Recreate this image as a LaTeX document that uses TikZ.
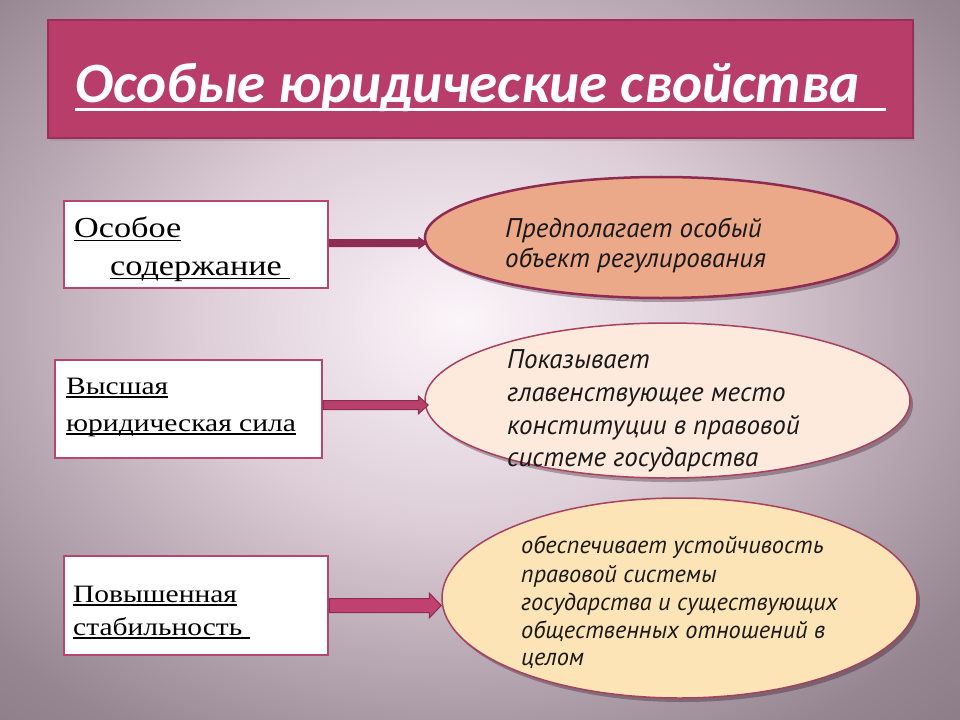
\documentclass[tikz,border=0pt]{standalone}
\usepackage{fontspec}
\setmainfont{Liberation Serif}
\newfontfamily\titlefont{Carlito}
\newfontfamily\boxfont[FakeStretch=1.18]{Liberation Serif}
\newfontfamily\ellfont{PT Sans}
\usetikzlibrary{calc,shapes.geometric,shadows}

\definecolor{bgA}{HTML}{FBF5F9}
\definecolor{bgB}{HTML}{F2E7EE}
\definecolor{bgC}{HTML}{DCCDD6}
\definecolor{bgD}{HTML}{B8A8B3}
\definecolor{bgE}{HTML}{958692}
\definecolor{bgF}{HTML}{7D6D79}
\definecolor{titlefill}{HTML}{B83D68}
\definecolor{titleedge}{HTML}{9C2F57}
\definecolor{boxedge}{HTML}{B44670}
\definecolor{darkrose}{HTML}{8E2B52}
\definecolor{midrose}{HTML}{B8416A}
\definecolor{brightrose}{HTML}{C0406E}
\definecolor{ellA}{HTML}{EBA98A}
\definecolor{ellB}{HTML}{FDEADD}
\definecolor{ellC}{HTML}{FCE4B6}
\definecolor{elledge}{HTML}{A6415F}

\pgfdeclareradialshading{bgsh}{\pgfpoint{0bp}{0bp}}{%
  color(0bp)=(bgA); color(4bp)=(bgB); color(12bp)=(bgC);
  color(20bp)=(bgD); color(28bp)=(bgE); color(40bp)=(bgF); color(50bp)=(bgF)}

\newcommand\ulx[1]{\setbox0\hbox{#1}\rlap{\rule[-0.14em]{\wd0}{0.045em}}\box0}

\newcommand\myarrow[7]{%
  \draw[fill=#1, draw=#2, line width=1bp, line join=miter]
    ($(#3)+(0,-#5)$) -- ($(#4)+(-#7,-#5)$) -- ($(#4)+(-#7,-#6)$) -- (#4)
    -- ($(#4)+(-#7,#6)$) -- ($(#4)+(-#7,#5)$) -- ($(#3)+(0,#5)$) -- cycle;}

\tikzset{
  lbox/.style={draw=boxedge, line width=2.5bp, fill=white, inner sep=0pt},
  ltextbig/.style={anchor=base west, inner sep=0pt, text=black,
    font=\boxfont\fontsize{29bp}{34bp}\selectfont},
  ltext/.style={anchor=base west, inner sep=0pt, text=black,
    font=\boxfont\fontsize{25bp}{30bp}\selectfont},
  ell/.style={ellipse, inner sep=0pt,
    drop shadow={shadow xshift=3bp, shadow yshift=-4bp, opacity=0.3, fill=black!80!purple}},
  etext/.style={anchor=base west, inner sep=0pt, text=black!90,
    font=\ellfont\itshape\fontsize{27bp}{30bp}\selectfont},
  etextsm/.style={anchor=base west, inner sep=0pt, text=black!90,
    font=\ellfont\itshape\fontsize{24.3bp}{28bp}\selectfont},
}

\begin{document}
\begin{tikzpicture}[x=1bp, y=-1bp]
\useasboundingbox (0,0) rectangle (960,720);
\begin{scope}
  \clip (0,0) rectangle (960,720);
  \fill[bgF] (0,0) rectangle (960,720);
  \shade[shading=bgsh] (460-560,320-430) rectangle (460+560,320+430);
\end{scope}

% title
\node[draw=titleedge, line width=2bp, fill=titlefill, minimum width=865bp, minimum height=118bp,
  inner sep=0pt, drop shadow={shadow xshift=2bp, shadow yshift=-3bp, opacity=0.3}] (tb) at (480.5,79) {};
\node[anchor=base west, inner sep=0pt, text=white,
  font=\titlefont\bfseries\itshape\fontsize{57bp}{64bp}\selectfont] (title) at (75,103) {Особые юридические свойства};
\draw[white, line width=3bp] ($(title.base west)+(0,7)$) -- ++(811,0);

% left boxes
\node[lbox, minimum width=264bp, minimum height=87bp] (b1) at (196,244.5) {};
\node[lbox, minimum width=267bp, minimum height=98bp] (b2) at (188.5,409) {};
\node[lbox, minimum width=264bp, minimum height=99bp] (b3) at (196,605.5) {};

\node[ltextbig] (t1a) at (74,237) {\ulx{Особое}};
\node[ltextbig] (t1b) at (110,275) {\ulx{содержание\ }};
\node[ltext] (t2a) at (66,394) {\ulx{Высшая}};
\node[ltext] (t2b) at (66,431) {\ulx{юридическая сила}};
\node[ltext] (t3a) at (73,602) {\ulx{Повышенная}};
\node[ltext] (t3b) at (73,635) {\ulx{стабильность\ }};

% ellipses
\node[ell, fill=ellA, draw=darkrose, line width=2.5bp, minimum width=472bp, minimum height=121bp] (e1) at (661,237.5) {};
\node[ell, fill=ellB, draw=elledge, line width=1.5bp, minimum width=485bp, minimum height=155bp] (e2) at (667.5,400.5) {};
\node[ell, fill=ellC, draw=elledge, line width=1.5bp, minimum width=475bp, minimum height=200bp] (e3) at (679.5,598) {};

\node[etext] (e1a) at (505,237) {Предполагает особый};
\node[etext] (e1b) at (505,267) {объект регулирования};

\node[etext] (e2a) at (507,368) {Показывает};
\node[etext] (e2b) at (507,401) {главенствующее место};
\node[etext] (e2c) at (507,434) {конституции в правовой};
\node[etext] (e2d) at (507,466) {системе государства};

\node[etextsm] (e3a) at (521,553) {обеспечивает устойчивость};
\node[etextsm] (e3b) at (521,582) {правовой системы};
\node[etextsm] (e3c) at (521,610) {государства и существующих};
\node[etextsm] (e3d) at (521,638) {общественных отношений в};
\node[etextsm] (e3e) at (521,665) {целом};

% arrows
\coordinate (a1s) at ($(b1.east)+(0,-1.5)$);
\coordinate (a2s) at ($(b2.east)+(0,-4)$);
\coordinate (a3s) at (b3.east);
\coordinate (a1e) at ($(e1.west |- a1s)+(3,0)$);
\coordinate (a2e) at ($(e2.west |- a2s)+(4,0)$);
\coordinate (a3e) at ($(e3.west |- a3s)+(0,0)$);
\myarrow{darkrose}{darkrose}{a1s}{a1e}{3.5}{5.5}{8}
\myarrow{midrose}{darkrose}{a2s}{a2e}{4.5}{9}{10}
\myarrow{brightrose}{darkrose}{a3s}{a3e}{7}{12.5}{12}
\end{tikzpicture}
\end{document}
